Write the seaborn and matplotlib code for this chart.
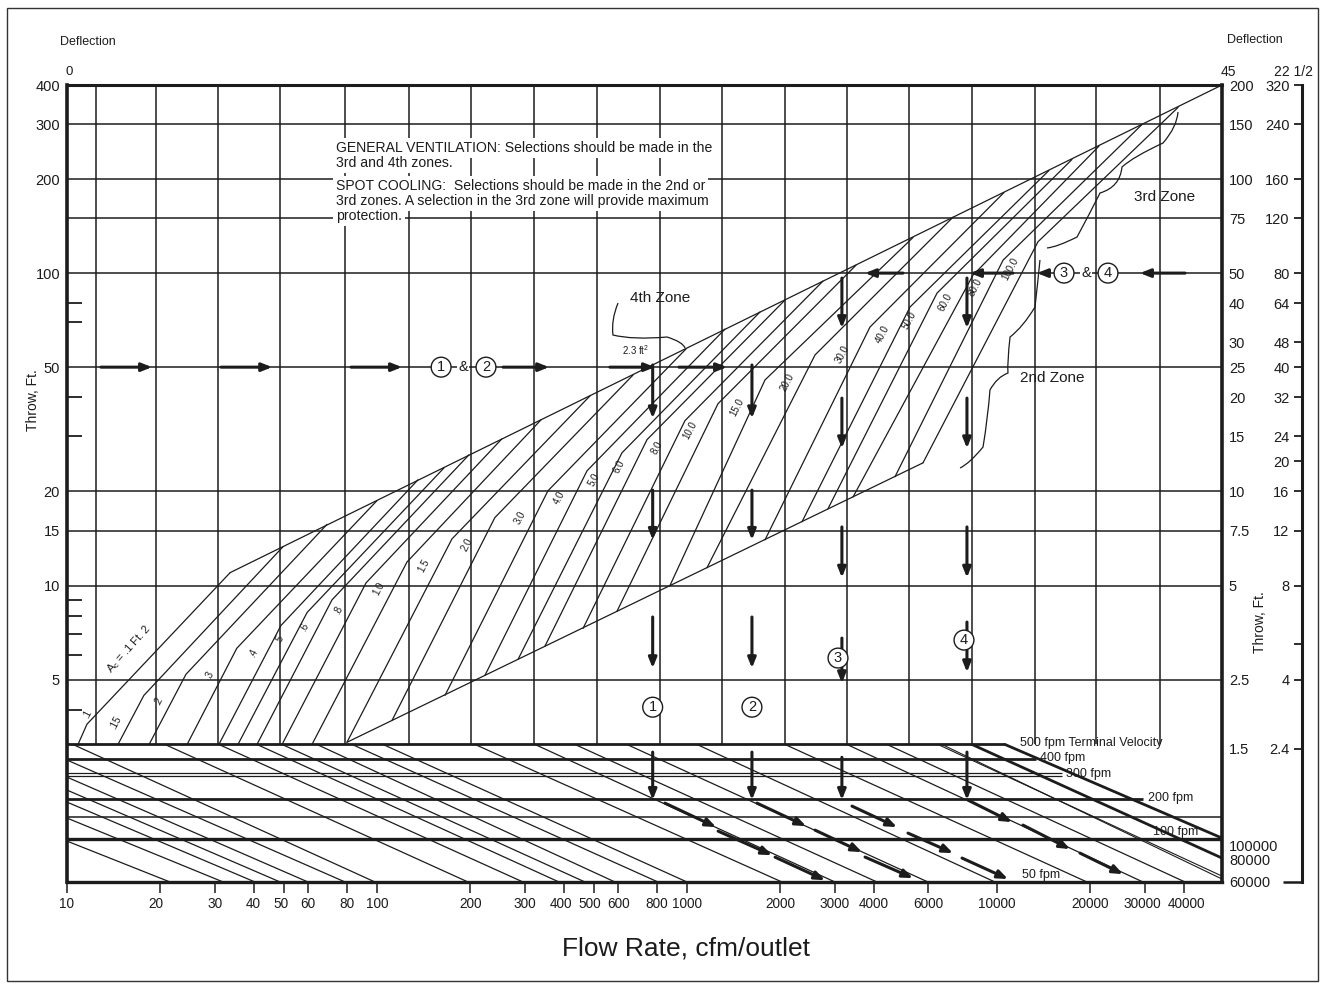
import matplotlib
matplotlib.use('Agg')
import matplotlib.pyplot as plt
import pandas as pd
import seaborn as sns
from matplotlib.path import Path
from matplotlib.patches import PathPatch, Rectangle
from matplotlib.ticker import FixedLocator, FixedFormatter, NullLocator, NullFormatter
from matplotlib.transforms import ScaledTranslation

INK = '#1c1c1c'

# core area curves (Ac, ft2): start, knee and end point of each line (cfm, throw ft)
ac_labels = ['.1', '.15', '.2', '.3', '.4', '.5', '.6', '.8', '1.0', '1.5', '2.0', '3.0', '4.0',
             '5.0', '6.0', '8.0', '10.0', '15.0', '20.0', '30.0', '40.0', '50.0', '60.0', '80.0', '100.0']
ac_start_cfm = [10.85, 14.6, 18.4, 24.4, 30.9, 35.6, 41.0, 49.4, 61.7, 80, 111.8, 165.7, 223,
                285, 348, 462, 594, 881, 1160, 1785, 2350, 2849, 3432, 4688, 5771]
ac_start_throw = [3.1, 3.1, 3.1, 3.1, 3.1, 3.1, 3.1, 3.1, 3.1, 3.15, 3.7, 4.45, 5.16,
                  5.8, 6.39, 7.29, 8.26, 10.0, 11.4, 14.0, 16.0, 17.6, 19.2, 22.3, 24.7]
ac_knee_cfm = [11.6, 17.7, 24.2, 35.3, 49.0, 59.5, 71.6, 92.2, 125, 174.5, 240, 356, 476,
               617, 743, 985, 1259, 1785, 2588, 3893, 5241, 6405, 8368, 10460, 13560]
ac_knee_throw = [3.6, 4.45, 5.2, 6.3, 7.45, 8.2, 9.0, 10.2, 11.9, 14.1, 16.5, 20.1, 23.3,
                 26.6, 29.3, 33.7, 38.2, 45.5, 54.7, 67.2, 77.9, 86.3, 98.5, 110, 126]
ac_end_cfm = [33.6, 49.7, 69.0, 100, 135.6, 164.5, 198, 253, 338, 487, 670, 993, 1326,
              1720, 2071, 2746, 3509, 5358, 7213, 10530, 14710, 17450, 21330, 29360, 38370]
ac_end_throw = [11.0, 13.3, 15.7, 18.7, 21.8, 23.8, 26.2, 29.5, 33.9, 40.5, 47.2, 57.2, 66.2,
                75.1, 82.0, 94.3, 106, 130, 151, 181, 213, 231, 255, 299, 339]

# zone boundaries
upper_env_cfm = [33.6, 53190]
upper_env_throw = [11.0, 400]
lower_env_cfm = [80, 5771]
lower_env_throw = [3.15, 24.7]

# grid
grid_cfm = [12.4, 19.3, 30.7, 48.7, 78.8, 127, 201, 321, 513, 818, 1300, 2070, 3280,
            5200, 8300, 13300, 20900, 33600]
grid_throw = [300, 200, 150, 100, 50, 20, 15, 10, 5]
floor_throw = 3.1
floor_end_cfm = 10610
x_min, x_max = 10, 53190
y_min, y_max = 1.125, 400

# terminal velocity section
vel_throw = [2.784, 2.510, 2.455, 2.072, 1.815, 1.543]
vel_end_cfm = [13360, 16210, 16210, 29580, 53190, 53190]
vel_width = [2.0, 0.9, 0.9, 2.0, 1.1, 2.4]
diag_top_cfm = [10.45, 20.7, 30.9, 41.0, 49.4, 64.0, 83.1, 104.6, 207.1, 323.3, 435.2,
                640.3, 1077, 2071, 3281, 4418]
diag_top_bottom_cfm = [98.5, 196.6, 295.8, 386.5, 468.8, 585.8, 806.2, 1000, 2025, 3002,
                       4101, 5989, 9851, 19510, 29580, 40420]
diag_left_throw = [2.764, 2.437, 2.215, 2.027, 1.802, 1.521]
diag_left_bottom_cfm = [78.9, 59.9, 48.7, 40.4, 31.9, 21.5]
diag_right_top_cfm = [6450, 6645, 8307, 10610]
diag_right_end_throw = [1.175, 1.150, 1.342, 1.555]
diag_right_width = [0.8, 0.8, 2.0, 2.0]

# worked example arrows
run_right_from = [12.87, 31.4, 82.5, 255, 564, 942]
run_right_to = [18.8, 45.9, 120.4, 359, 788, 1346]
run_left_from = [40420, 14500, 11260, 4975]
run_left_to = [28930, 13460, 8184, 3752]
example_cfm = [775, 1620, 3160, 8000]
drops = [[(50.8, 34.3), (20.2, 14.0), (7.93, 5.44), (2.93, 2.06)],
         [(50.8, 34.3), (20.2, 14.0), (7.93, 5.44), (2.93, 2.06)],
         [(96.4, 66.7), (39.8, 27.5), (15.4, 10.6), (6.79, 4.87), (2.82, 2.06)],
         [(96.4, 66.7), (39.8, 27.5), (15.4, 10.6), (7.64, 5.28), (2.93, 2.06)]]
slides = [[(849, 2.012, 1241, 1.686), (1260, 1.637, 1880, 1.371), (1924, 1.351, 2788, 1.140)],
          [(1682, 2.012, 2421, 1.698), (2588, 1.649, 3668, 1.402), (3753, 1.352, 5358, 1.158)],
          [(3406, 1.968, 4757, 1.686), (5163, 1.613, 7213, 1.392), (7713, 1.342, 10850, 1.150)],
          [(8064, 2.057, 11180, 1.749), (12130, 1.711, 17200, 1.434), (18520, 1.392, 25500, 1.192)]]
circle_marks = [('1', 161, 50), ('2', 224.7, 50), ('3', 16450, 100), ('4', 22810, 100),
                ('1', 775, 4.08), ('2', 1620, 4.08), ('3', 3070, 5.86), ('4', 7826, 6.69)]
amp_marks = [(189.4, 50), (19370, 100)]

# axis labels
x_ticks = [10, 20, 30, 40, 50, 60, 80, 100, 200, 300, 400, 500, 600, 800, 1000, 2000, 3000,
           4000, 6000, 10000, 20000, 30000, 40000]
x_label_nudge = {20: -4, 50: -3, 400: -3, 500: -4, 30000: -3, 40000: 3}
left_ticks = [400, 300, 200, 100, 50, 20, 15, 10, 5]
left_minor = [80, 70, 40, 30, 9, 8, 7, 6, 4]
inner_at = [400, 300, 200, 150, 100, 80, 60, 50, 40, 30, 20, 15, 10, 5, 3, 1.477, 1.332, 1.132]
inner_labels = ['200', '150', '100', '75', '50', '40', '30', '25', '20', '15', '10', '7.5',
                '5', '2.5', '1.5', '100000', '80000', '60000']
outer_at = [400, 300, 200, 150, 100, 80, 60, 50, 40, 30, 25, 20, 15, 10, 6.5, 5, 3]
outer_labels = ['320', '240', '160', '120', '80', '64', '48', '40', '32', '24', '20', '16',
                '12', '8', '', '4', '2.4']

sns.set_style('white')
plt.rcParams['font.family'] = ['Liberation Sans', 'DejaVu Sans']
plt.rcParams['mathtext.fontset'] = 'custom'
plt.rcParams['mathtext.rm'] = 'Liberation Sans'
plt.rcParams['mathtext.it'] = 'Liberation Sans:italic'

fig = plt.figure(figsize=(13.25, 9.88), dpi=100)
ax = fig.add_axes([67 / 1325, 1 - 882 / 988, 1155 / 1325, 797 / 988])
ax.set_xscale('log')
ax.set_yscale('log')
ax.set_xlim(x_min, x_max)
ax.set_ylim(y_min, y_max)

# grid of the chart
ax.hlines(grid_throw, x_min, x_max, color=INK, lw=1.1, zorder=1)
ax.vlines(grid_cfm, floor_throw, y_max, color=INK, lw=1.1, zorder=1)
ax.hlines(floor_throw, x_min, floor_end_cfm, color=INK, lw=2.0, zorder=2)

# Ac curves
rows = []
for i, lab in enumerate(ac_labels):
    rows.append((lab, ac_start_cfm[i], ac_start_throw[i]))
    rows.append((lab, ac_knee_cfm[i], ac_knee_throw[i]))
    rows.append((lab, ac_end_cfm[i], ac_end_throw[i]))
ac_df = pd.DataFrame(rows, columns=['ac', 'cfm', 'throw'])
sns.lineplot(data=ac_df, x='cfm', y='throw', units='ac', estimator=None, sort=False,
             color=INK, lw=0.9, legend=False, ax=ax)
ax.plot(upper_env_cfm, upper_env_throw, color=INK, lw=0.9)
ax.plot(lower_env_cfm, lower_env_throw, color=INK, lw=0.9)

for i, lab in enumerate(ac_labels):
    off = (0, 7) if lab == '.1' else (-20, -19.5)
    ax.annotate(lab, (ac_knee_cfm[i], ac_knee_throw[i]), xytext=off, textcoords='offset points',
                fontsize=7, rotation=62, ha='center', va='center', color=INK)
ax.annotate(r'A$_\mathrm{c}$ = .1 Ft. 2', (ac_knee_cfm[0], ac_knee_throw[0]), xytext=(30, 54),
            textcoords='offset points', fontsize=8, rotation=48, ha='center', va='center', color=INK)

# terminal velocity section
ax.hlines(vel_throw, x_min, vel_end_cfm, color=INK, lw=vel_width, zorder=2)
diag_rows = []
for i, q in enumerate(diag_top_cfm):
    diag_rows.append(('t%d' % i, q, floor_throw))
    diag_rows.append(('t%d' % i, diag_top_bottom_cfm[i], y_min))
for i, t in enumerate(diag_left_throw):
    diag_rows.append(('l%d' % i, x_min, t))
    diag_rows.append(('l%d' % i, diag_left_bottom_cfm[i], y_min))
diag_df = pd.DataFrame(diag_rows, columns=['line', 'cfm', 'throw'])
sns.lineplot(data=diag_df, x='cfm', y='throw', units='line', estimator=None, sort=False,
             color=INK, lw=0.9, legend=False, ax=ax)
for q, t, w in zip(diag_right_top_cfm, diag_right_end_throw, diag_right_width):
    ax.plot([q, x_max], [floor_throw, t], color=INK, lw=w)

vel_text = [('500 fpm Terminal Velocity', 0.8251, 0.1744), ('400 fpm', 0.8424, 0.1556),
            ('300 fpm', 0.8649, 0.1355), ('200 fpm', 0.9359, 0.1054),
            ('100 fpm', 0.9403, 0.0627), ('50 fpm', 0.8268, 0.0090)]
for s, x, y in vel_text:
    ax.text(x, y, s, transform=ax.transAxes, fontsize=9, ha='left', va='center', color=INK,
            zorder=4)

# worked example arrows
arrow = dict(arrowstyle='-|>,head_length=0.6,head_width=0.24', color=INK, lw=2.2,
             shrinkA=0, shrinkB=0)
for a, b in zip(run_right_from, run_right_to):
    ax.annotate('', xy=(b, 50), xytext=(a, 50), arrowprops=arrow, zorder=5)
for a, b in zip(run_left_from, run_left_to):
    ax.annotate('', xy=(b, 100), xytext=(a, 100), arrowprops=arrow, zorder=5)
for q, runs in zip(example_cfm, drops):
    for a, b in runs:
        ax.annotate('', xy=(q, b), xytext=(q, a), arrowprops=arrow, zorder=5)
for chain in slides:
    for q0, t0, q1, t1 in chain:
        ax.annotate('', xy=(q1, t1), xytext=(q0, t0), arrowprops=arrow, zorder=5)
for s, q, t in circle_marks:
    ax.text(q, t, s, fontsize=10.5, ha='center', va='center', color=INK, zorder=7,
            bbox=dict(boxstyle='circle,pad=0.2', fc='white', ec=INK, lw=1.0))
for q, t in amp_marks:
    ax.text(q, t, '&', fontsize=10.5, ha='center', va='center', color=INK, zorder=7,
            bbox=dict(fc='white', ec='none', pad=0.5))

# notes
notes = [('GENERAL VENTILATION: Selections should be made in the', 0.9210),
         ('3rd and 4th zones.', 0.9021),
         ('SPOT COOLING:  Selections should be made in the 2nd or', 0.8733),
         ('3rd zones. A selection in the 3rd zone will provide maximum', 0.8545),
         ('protection.', 0.8356)]
for s, y in notes:
    ax.text(0.2329, y, s, transform=ax.transAxes, fontsize=10.1, ha='left', va='center',
            color=INK, zorder=6, bbox=dict(fc='white', ec='none', pad=2.2))

zone_text = [('4th Zone', 0.5134, 0.7327, 11), ('3rd Zone', 0.9506, 0.8595, 11),
             ('2nd Zone', 0.8528, 0.6324, 11), ('2.3 ft$^2$', 0.4926, 0.6675, 7)]
for s, x, y, fs in zone_text:
    ax.text(x, y, s, transform=ax.transAxes, fontsize=fs, ha='center', va='center',
            color=INK, zorder=6)

braces = [
    [(0.4771, 0.7265), (0.4710, 0.7051), (0.4727, 0.6863), (0.4900, 0.6801), (0.5195, 0.6838),
     (0.5333, 0.6775), (0.5351, 0.6700)],
    [(0.9619, 0.9661), (0.9610, 0.9473), (0.9489, 0.9272), (0.9229, 0.9097), (0.9134, 0.8971),
     (0.9117, 0.8720), (0.8944, 0.8645), (0.8857, 0.8394), (0.8745, 0.8093), (0.8571, 0.7967),
     (0.8485, 0.7955)],
    [(0.8424, 0.7804), (0.8407, 0.7553), (0.8381, 0.7215), (0.8277, 0.6964), (0.8165, 0.6838),
     (0.8139, 0.6512), (0.8147, 0.6386), (0.8052, 0.6336), (0.7991, 0.6173), (0.7974, 0.5834),
     (0.7931, 0.5458), (0.7818, 0.5257), (0.7732, 0.5194)],
]
for pts in braces:
    codes = [Path.MOVETO] + [Path.CURVE3] * (len(pts) - 1)
    ax.add_patch(PathPatch(Path(pts, codes), transform=ax.transAxes, fc='none', ec=INK,
                           lw=0.9, zorder=5))

# axes styling
for side, w in [('left', 2.6), ('right', 2.6), ('top', 2.2), ('bottom', 2.4)]:
    ax.spines[side].set_linewidth(w)
    ax.spines[side].set_color(INK)
ax.xaxis.set_major_locator(FixedLocator(x_ticks))
ax.xaxis.set_major_formatter(FixedFormatter([str(v) for v in x_ticks]))
ax.xaxis.set_minor_locator(NullLocator())
ax.tick_params(axis='x', which='major', direction='out', length=8, width=1.1, pad=3,
               labelsize=9.8, colors=INK, bottom=True, top=False)
ax.yaxis.set_major_locator(FixedLocator(left_ticks))
ax.yaxis.set_major_formatter(FixedFormatter([str(v) for v in left_ticks]))
ax.yaxis.set_minor_locator(FixedLocator(left_minor))
ax.yaxis.set_minor_formatter(NullFormatter())
ax.tick_params(axis='y', which='major', length=0, pad=5, labelsize=10.5, colors=INK, left=True)
ax.tick_params(axis='y', which='minor', direction='in', length=11, width=1.3, left=True,
               right=False, colors=INK)
ax.set_xlabel('')
ax.set_ylabel('')
for v, tick in zip(x_ticks, ax.xaxis.get_major_ticks()):
    if v in x_label_nudge:
        shift = ScaledTranslation(x_label_nudge[v] / 100, 0, fig.dpi_scale_trans)
        tick.label1.set_transform(tick.label1.get_transform() + shift)

ax2 = ax.twinx()
ax2.set_yscale('log')
ax2.set_ylim(y_min, y_max)
for s in ax2.spines.values():
    s.set_visible(False)
ax2.yaxis.set_major_locator(FixedLocator(inner_at))
ax2.yaxis.set_major_formatter(FixedFormatter(inner_labels))
ax2.yaxis.set_minor_locator(NullLocator())
ax2.yaxis.set_minor_formatter(NullFormatter())
ax2.tick_params(axis='y', length=0, pad=5, labelsize=10.5, colors=INK)

ax3 = ax.twinx()
ax3.set_yscale('log')
ax3.set_ylim(y_min, y_max)
for s in ax3.spines.values():
    s.set_visible(False)
ax3.spines['left'].set_visible(True)
ax3.spines['left'].set_position(('axes', 1.0693))
ax3.spines['left'].set_linewidth(2.2)
ax3.spines['left'].set_color(INK)
ax3.yaxis.tick_left()
ax3.yaxis.set_major_locator(FixedLocator(outer_at))
ax3.yaxis.set_major_formatter(FixedFormatter(outer_labels))
ax3.yaxis.set_minor_locator(FixedLocator([y_min]))
ax3.yaxis.set_minor_formatter(NullFormatter())
ax3.tick_params(axis='y', which='major', direction='out', length=5.5, width=1.3, pad=3.5,
                labelsize=10.5, colors=INK)
ax3.tick_params(axis='y', which='minor', direction='out', length=14, width=1.8, colors=INK)

# figure texts
fig.text(60 / 1325, 1 - 42 / 988, 'Deflection', fontsize=9, ha='left', va='center', color=INK)
fig.text(69 / 1325, 1 - 72 / 988, '0', fontsize=9.5, ha='center', va='center', color=INK)
fig.text(1227 / 1325, 1 - 40 / 988, 'Deflection', fontsize=9, ha='left', va='center', color=INK)
fig.text(1228 / 1325, 1 - 72 / 988, '45', fontsize=10, ha='center', va='center', color=INK)
fig.text(1293 / 1325, 1 - 72 / 988, '22 1/2', fontsize=10, ha='center', va='center', color=INK)
fig.text(33 / 1325, 1 - 400 / 988, 'Throw, Ft.', fontsize=10, rotation=90, ha='center',
         va='center', color=INK)
fig.text(1260 / 1325, 1 - 622 / 988, 'Throw, Ft.', fontsize=10, rotation=90, ha='center',
         va='center', color=INK)
fig.text(686 / 1325, 1 - 948 / 988, 'Flow Rate, cfm/outlet', fontsize=19, ha='center',
         va='center', color=INK)
fig.patches.append(Rectangle((7 / 1325, 7 / 988), 1311 / 1325, 973 / 988,
                             transform=fig.transFigure, fill=False, ec='#333333', lw=1.0))

fig.savefig('out.png', dpi=100, facecolor='white')
